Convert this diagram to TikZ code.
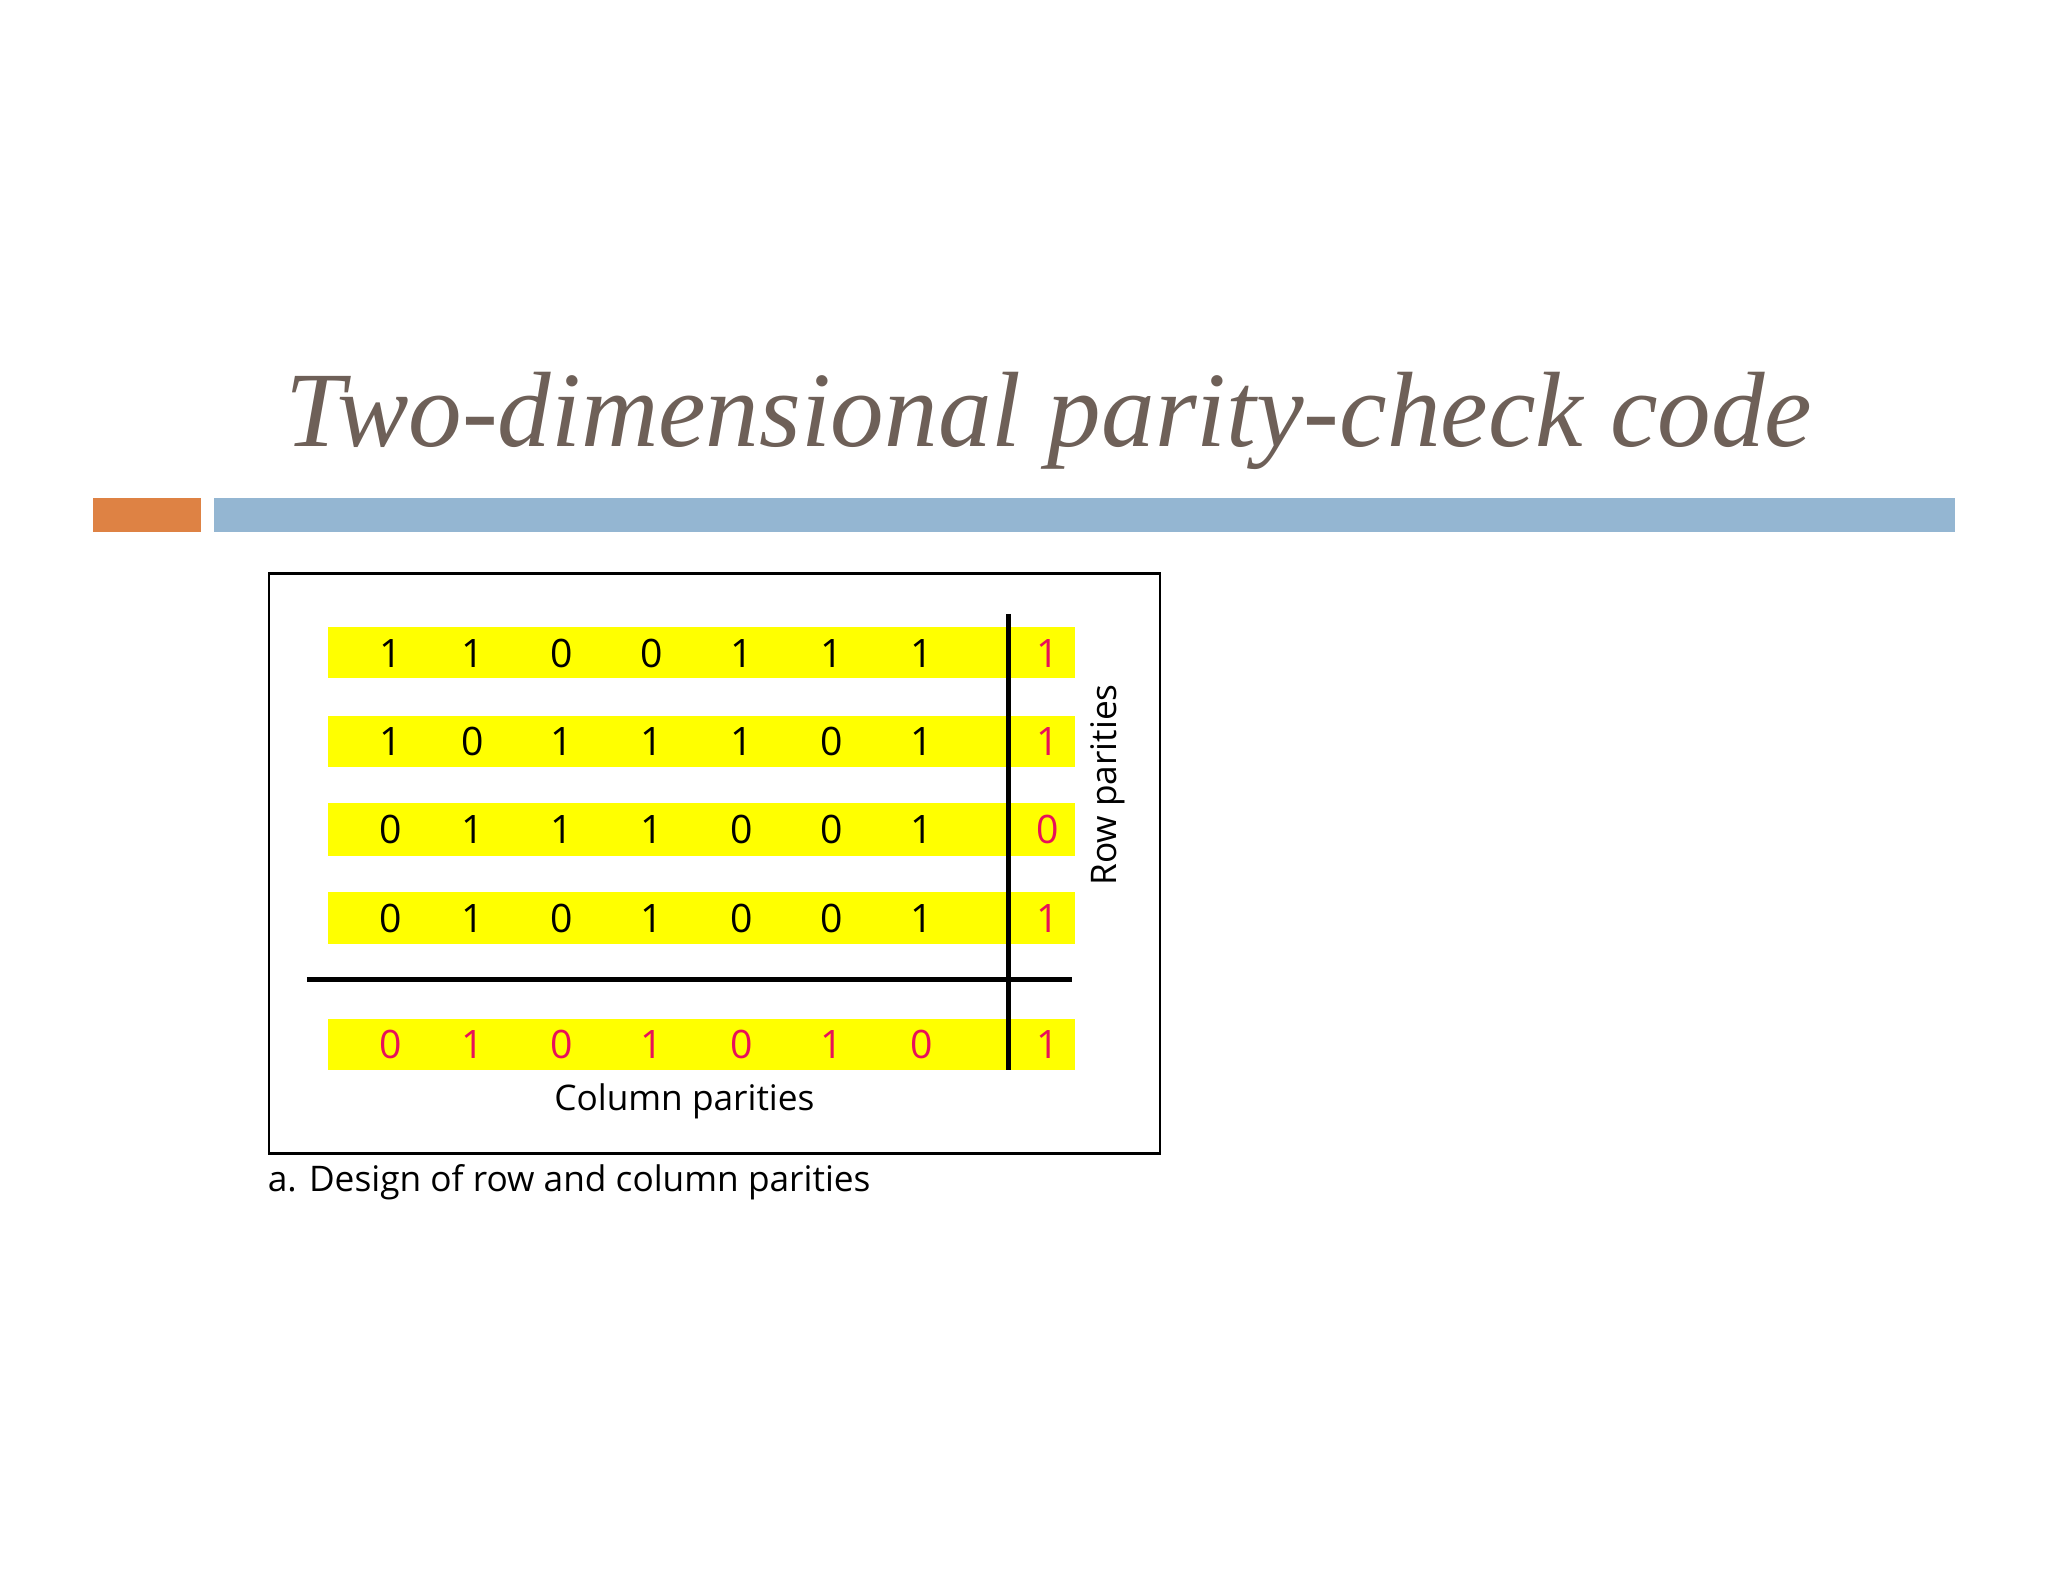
\documentclass[tikz,border=0pt]{standalone}
\usepackage{fontspec}
\setmainfont{Liberation Serif}
\newfontfamily\opsf{Open Sans}
\definecolor{titlec}{HTML}{6E6058}
\definecolor{orangebar}{HTML}{DE8244}
\definecolor{bluebar}{HTML}{94B6D2}
\definecolor{yel}{HTML}{FFFF00}
\definecolor{par}{HTML}{E8105A}
\begin{document}
\begin{tikzpicture}[x=0.5pt,y=-0.5pt,
  bit/.style={font=\opsf\fontsize{15}{15}\selectfont},
  pbit/.style={bit,text=par},
  lbl/.style={font=\opsf\fontsize{13.5}{15}\selectfont}]
\useasboundingbox (0,0) rectangle (1568,1211);
\node[font=\itshape\fontsize{41}{48}\selectfont,text=titlec] (title) at (803,322) {Two-dimensional parity-check code};
\fill[orangebar] (71,381) rectangle (154,407);
\fill[bluebar] (164,381) rectangle (1497,407);
\draw[line width=1pt] (206,439) rectangle (888,883);
\foreach \ya/\yb in {480/519,548/587,615/655,683/723,780/819}
  \fill[yel] (251,\ya) rectangle (823,\yb);
\def\xs{{299,362,430,499,568,637,706}}
\foreach \r [count=\i] in {{1,1,0,0,1,1,1},{1,0,1,1,1,0,1},{0,1,1,1,0,0,1},{0,1,0,1,0,0,1}}{
  \foreach \b [count=\j from 0] in \r {
    \pgfmathsetmacro\xx{\xs[\j]}
    \pgfmathsetmacro\yy{{500,568,635,703}[\i-1]}
    \node[bit] at (\xx,\yy) {\b};
  }
}
\foreach \b/\y in {1/500,1/568,0/635,1/703,1/800}
  \node[pbit] at (802,\y) {\b};
\foreach \b [count=\j from 0] in {0,1,0,1,0,1,0}{
  \pgfmathsetmacro\xx{\xs[\j]}
  \node[pbit] at (\xx,800) {\b};
}
\draw[line width=2pt] (772,470) -- (772,819);
\draw[line width=2pt] (235,750) -- (821,750);
\node[lbl] (colp) at (524,843) {Column parities};
\node[lbl,rotate=90] (rowp) at (848,601) {Row parities};
\node[lbl,anchor=west] (cap) at (198,905) {a. Design of row and column parities};
\end{tikzpicture}
\end{document}
